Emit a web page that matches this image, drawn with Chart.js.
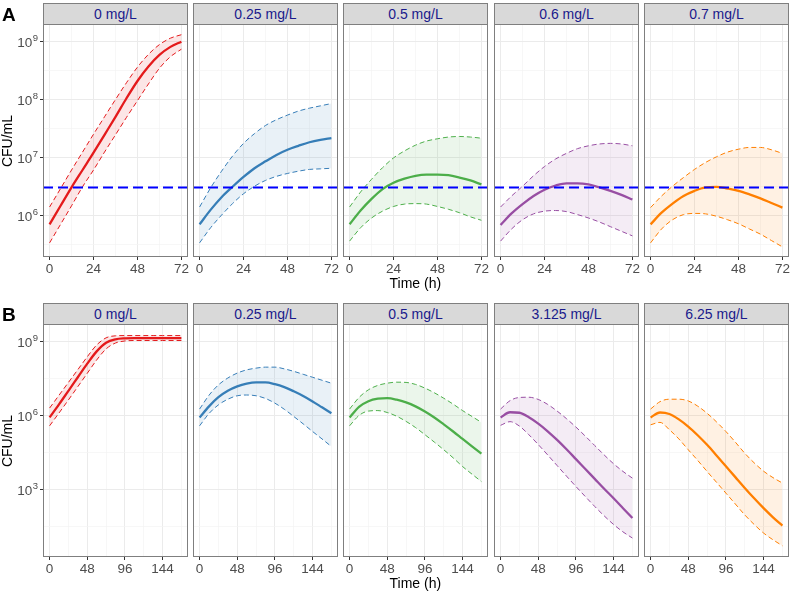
<!DOCTYPE html>
<html>
<head>
<meta charset="utf-8">
<script src="https://cdn.jsdelivr.net/npm/chart.js@4.4.1/dist/chart.umd.min.js"></script>
<style>
  body { margin: 0; width: 792px; height: 592px; position: relative; overflow: hidden; background: #fff;
         font-family: "Liberation Sans", Arial, sans-serif; }
  canvas { position: absolute; }
  .strip { position: absolute; box-sizing: border-box; height: 22px; background: #d9d9d9; border: 1px solid #7f7f7f;
           color: #1a1a8c; font-size: 14px; line-height: 20px; text-align: center; }
  .lbl { position: absolute; color: #000; font-size: 14px; white-space: nowrap; }
  .tag { position: absolute; font-weight: bold; font-size: 19px; color: #000; }
</style>
</head>
<body>
<script>
// ---- data ----
const timesA = [0, 6, 12, 18, 24, 30, 36, 42, 48, 54, 60, 66, 72];
const timesB = [0, 12, 24, 36, 48, 60, 72, 84, 96, 108, 120, 132, 144, 156, 168];
const dosesA = ["0 mg/L", "0.25 mg/L", "0.5 mg/L", "0.6 mg/L", "0.7 mg/L"];
const dosesB = ["0 mg/L", "0.25 mg/L", "0.5 mg/L", "3.125 mg/L", "6.25 mg/L"];
const colors = ["#E41A1C", "#377EB8", "#4DAF4A", "#984EA3", "#FF7F00"];
const threshold = 3e6;

// panel A (72 h)
const a0Mid = [6.92e5, 1.45e6, 3.02e6, 6.03e6, 1.20e7, 2.45e7, 5.01e7, 1.05e8, 2.09e8, 3.72e8, 5.89e8, 8.13e8, 1.0e9];
const a0Hi  = [1.38e6, 2.88e6, 6.03e6, 1.23e7, 2.51e7, 5.01e7, 1.0e8, 1.95e8, 3.63e8, 6.03e8, 8.91e8, 1.15e9, 1.32e9];
const a0Lo  = [3.31e5, 6.92e5, 1.45e6, 3.09e6, 6.03e6, 1.23e7, 2.45e7, 4.90e7, 9.55e7, 1.86e8, 3.47e8, 5.50e8, 7.41e8];
const a1Mid = [6.92e5, 1.23e6, 2.04e6, 3.09e6, 4.57e6, 6.46e6, 8.51e6, 1.10e7, 1.35e7, 1.58e7, 1.82e7, 2.00e7, 2.14e7];
const a1Hi  = [1.38e6, 2.95e6, 5.75e6, 1.05e7, 1.74e7, 2.57e7, 3.55e7, 4.47e7, 5.37e7, 6.31e7, 7.08e7, 7.76e7, 8.51e7];
const a1Lo  = [3.31e5, 6.03e5, 1.0e6, 1.58e6, 2.34e6, 3.16e6, 3.98e6, 4.68e6, 5.25e6, 5.75e6, 6.17e6, 6.31e6, 6.46e6];
const a2Mid = [6.92e5, 1.20e6, 1.91e6, 2.82e6, 3.63e6, 4.27e6, 4.79e6, 5.01e6, 5.01e6, 4.90e6, 4.47e6, 3.98e6, 3.39e6];
const a2Hi  = [1.38e6, 2.51e6, 4.17e6, 6.61e6, 9.77e6, 1.29e7, 1.62e7, 1.91e7, 2.09e7, 2.24e7, 2.29e7, 2.24e7, 2.14e7];
const a2Lo  = [3.55e5, 6.03e5, 8.91e5, 1.17e6, 1.41e6, 1.55e6, 1.58e6, 1.55e6, 1.41e6, 1.26e6, 1.10e6, 9.33e5, 8.13e5];
const a3Mid = [6.76e5, 1.07e6, 1.55e6, 2.14e6, 2.75e6, 3.24e6, 3.55e6, 3.55e6, 3.39e6, 3.02e6, 2.63e6, 2.24e6, 1.86e6];
const a3Hi  = [1.38e6, 2.14e6, 3.16e6, 4.79e6, 6.92e6, 9.33e6, 1.17e7, 1.41e7, 1.58e7, 1.70e7, 1.74e7, 1.70e7, 1.58e7];
const a3Lo  = [3.55e5, 5.75e5, 8.32e5, 1.05e6, 1.17e6, 1.20e6, 1.15e6, 1.02e6, 8.91e5, 7.59e5, 6.31e5, 5.25e5, 4.37e5];
const a4Mid = [6.92e5, 1.10e6, 1.58e6, 2.14e6, 2.63e6, 3.02e6, 3.09e6, 2.88e6, 2.63e6, 2.29e6, 1.95e6, 1.62e6, 1.35e6];
const a4Hi  = [1.35e6, 2.14e6, 3.16e6, 4.47e6, 6.17e6, 8.13e6, 1.02e7, 1.23e7, 1.38e7, 1.48e7, 1.48e7, 1.35e7, 1.17e7];
const a4Lo  = [3.31e5, 5.75e5, 8.32e5, 1.02e6, 1.07e6, 1.05e6, 9.55e5, 8.32e5, 7.08e5, 5.75e5, 4.68e5, 3.63e5, 2.82e5];

// panel B (168 h)
const b0Mid = [8.32e5, 2.82e6, 1.0e7, 3.55e7, 1.26e8, 3.98e8, 8.91e8, 1.23e9, 1.35e9, 1.38e9, 1.38e9, 1.38e9, 1.38e9, 1.38e9, 1.38e9];
const b0Hi  = [2.0e6, 6.61e6, 2.19e7, 7.24e7, 2.40e8, 7.24e8, 1.41e9, 1.70e9, 1.74e9, 1.74e9, 1.74e9, 1.74e9, 1.74e9, 1.74e9, 1.74e9];
const b0Lo  = [3.80e5, 1.26e6, 4.27e6, 1.48e7, 5.13e7, 1.78e8, 5.01e8, 8.71e8, 1.05e9, 1.10e9, 1.10e9, 1.10e9, 1.10e9, 1.10e9, 1.10e9];
const b1Mid = [8.32e5, 2.34e6, 5.50e6, 1.0e7, 1.51e7, 1.95e7, 2.19e7, 2.19e7, 1.86e7, 1.41e7, 9.55e6, 6.17e6, 3.72e6, 2.14e6, 1.23e6];
const b1Hi  = [1.82e6, 6.61e6, 1.74e7, 3.31e7, 5.25e7, 7.08e7, 8.32e7, 9.12e7, 9.12e7, 7.76e7, 6.17e7, 4.68e7, 3.55e7, 2.69e7, 2.04e7];
const b1Lo  = [3.80e5, 1.20e6, 2.69e6, 4.57e6, 6.31e6, 6.76e6, 6.31e6, 4.90e6, 3.16e6, 1.78e6, 9.12e5, 4.57e5, 2.24e5, 1.12e5, 5.50e4];
const b2Mid = [8.32e5, 2.24e6, 3.80e6, 4.79e6, 5.01e6, 4.37e6, 3.39e6, 2.34e6, 1.45e6, 8.32e5, 4.37e5, 2.24e5, 1.12e5, 5.62e4, 2.82e4];
const b2Hi  = [1.82e6, 5.37e6, 1.10e7, 1.66e7, 2.04e7, 2.24e7, 2.19e7, 1.82e7, 1.29e7, 8.32e6, 5.01e6, 2.88e6, 1.58e6, 9.12e5, 5.25e5];
const b2Lo  = [3.80e5, 1.0e6, 1.51e6, 1.58e6, 1.32e6, 9.33e5, 5.75e5, 3.24e5, 1.66e5, 8.32e4, 4.07e4, 1.91e4, 8.51e3, 4.17e3, 2.09e3];
const b3Mid = [8.32e5, 1.35e6, 1.29e6, 8.51e5, 4.68e5, 2.29e5, 1.02e5, 4.27e4, 1.70e4, 6.76e3, 2.69e3, 1.07e3, 437, 174, 69];
const b3Hi  = [1.82e6, 3.98e6, 5.37e6, 5.50e6, 4.47e6, 2.82e6, 1.51e6, 7.41e5, 3.39e5, 1.45e5, 6.03e4, 2.51e4, 1.10e4, 5.37e3, 2.88e3];
const b3Lo  = [3.98e5, 5.62e5, 3.72e5, 1.66e5, 6.61e4, 2.51e4, 9.33e3, 3.47e3, 1.32e3, 513, 204, 85, 38, 19, 10.7];
const b4Mid = [8.32e5, 1.32e6, 1.15e6, 6.92e5, 3.55e5, 1.58e5, 6.46e4, 2.40e4, 8.71e3, 3.16e3, 1.15e3, 437, 174, 74, 34];
const b4Hi  = [1.82e6, 3.63e6, 4.57e6, 4.57e6, 3.89e6, 2.40e6, 1.23e6, 5.50e5, 2.24e5, 8.32e4, 2.95e4, 1.20e4, 5.50e3, 3.02e3, 1.82e3];
const b4Lo  = [4.17e5, 5.25e5, 2.63e5, 1.12e5, 4.07e4, 1.51e4, 5.37e3, 1.95e3, 708, 257, 93, 38, 17, 9.1, 5.2];

// tick labels / grid breaks
const xMajorA = [0, 24, 48, 72];
const xMinorA = [12, 36, 60];
const xMajorB = [0, 48, 96, 144];
const xMinorB = [24, 72, 120, 168];
const yMajorA = [1e6, 1e7, 1e8, 1e9];
const yMinorA = [3.162e5, 3.162e6, 3.162e7, 3.162e8];
const yMajorB = [1e3, 1e6, 1e9];
const yMinorB = [31.62, 3.162e4, 3.162e7];

// ---- layout ----
const panelLeft = [43, 193, 343, 494, 644];
const panelW = 145, panelH = 233;
const FONT = "Liberation Sans, Arial, sans-serif";

const rows = [
  { tag: "A", top: 24, strip: 3, doses: dosesA, times: timesA, xMin: -3.6, xMax: 75.6,
    yMin: 1.884e5, yMax: 2.023e9, xMajor: xMajorA, xMinor: xMinorA, yMajor: yMajorA, yMinor: yMinorA,
    series: [[a0Lo, a0Hi, a0Mid], [a1Lo, a1Hi, a1Mid], [a2Lo, a2Hi, a2Mid], [a3Lo, a3Hi, a3Mid], [a4Lo, a4Hi, a4Mid]],
    showThreshold: true },
  { tag: "B", top: 324, strip: 303, doses: dosesB, times: timesB, xMin: -8.4, xMax: 176.4,
    yMin: 1.82, yMax: 5.13e9, xMajor: xMajorB, xMinor: xMinorB, yMajor: yMajorB, yMinor: yMinorB,
    series: [[b0Lo, b0Hi, b0Mid], [b1Lo, b1Hi, b1Mid], [b2Lo, b2Hi, b2Mid], [b3Lo, b3Hi, b3Mid], [b4Lo, b4Hi, b4Mid]],
    showThreshold: false }
];

function rgba(hex, a) {
  const n = parseInt(hex.slice(1), 16);
  return `rgba(${n >> 16},${(n >> 8) & 255},${n & 255},${a})`;
}
const near = (list, v) => list.some(m => Math.abs(m - v) <= Math.abs(m) * 1e-3 + 1e-9);

const panelBorder = {
  id: "panelBorder",
  afterDraw(chart) {
    const { ctx, chartArea: a } = chart;
    ctx.save();
    ctx.strokeStyle = "#7f7f7f";
    ctx.lineWidth = 1;
    ctx.strokeRect(a.left + 0.5, a.top + 0.5, a.right - a.left - 1, a.bottom - a.top - 1);
    ctx.restore();
  }
};

const thresholdLine = {
  id: "thresholdLine",
  afterDatasetsDraw(chart, args, opts) {
    if (!opts.show) return;
    const { ctx, chartArea: a, scales } = chart;
    const y = scales.y.getPixelForValue(threshold);
    ctx.save();
    ctx.strokeStyle = "#0000ff";
    ctx.lineWidth = 2;
    ctx.setLineDash([10, 5]);
    ctx.beginPath();
    ctx.moveTo(a.left, y);
    ctx.lineTo(a.right, y);
    ctx.stroke();
    ctx.restore();
  }
};

// y labels as 10 with a raised exponent, placed with the log scale
const powerLabels = {
  id: "powerLabels",
  afterDraw(chart, args, opts) {
    if (!opts.majors) return;
    const { ctx, chartArea: a, scales } = chart;
    ctx.save();
    ctx.fillStyle = "#4d4d4d";
    ctx.textBaseline = "middle";
    ctx.textAlign = "right";
    opts.majors.forEach(v => {
      const y = scales.y.getPixelForValue(v);
      const exp = String(Math.round(Math.log10(v)));
      ctx.font = "9.5px " + FONT;
      const ew = ctx.measureText(exp).width;
      const xr = a.left - 5;
      ctx.fillText(exp, xr, y - 3);
      ctx.font = "13.5px " + FONT;
      ctx.fillText("10", xr - ew - 0.5, y + 2);
    });
    ctx.restore();
  }
};

function addDiv(cls, text, css) {
  const d = document.createElement("div");
  d.className = cls;
  d.textContent = text;
  Object.assign(d.style, css);
  document.body.appendChild(d);
  return d;
}

function drawPanel(row, col) {
  const left = panelLeft[col];
  const yW = col === 0 ? 43 : 0;
  const padL = col === 0 ? 0 : 10;
  const padR = 10;
  const xH = 30;
  const cw = yW + padL + panelW + padR;
  const ch = panelH + xH;

  const canvas = document.createElement("canvas");
  canvas.width = cw; canvas.height = ch;
  canvas.style.width = cw + "px"; canvas.style.height = ch + "px";
  canvas.style.left = (left - yW - padL) + "px";
  canvas.style.top = row.top + "px";
  document.body.appendChild(canvas);

  const [lo, hi, mid] = row.series[col];
  const color = colors[col];
  const pts = arr => arr.map((v, i) => ({ x: row.times[i], y: v }));
  const xTicks = row.xMajor.concat(row.xMinor).sort((a, b) => a - b);
  const yTicks = row.yMajor.concat(row.yMinor).sort((a, b) => a - b);

  new Chart(canvas, {
    type: "line",
    data: {
      datasets: [
        { data: pts(lo), borderColor: color, borderWidth: 1, borderDash: [5, 3], fill: false },
        { data: pts(hi), borderColor: color, borderWidth: 1, borderDash: [5, 3], fill: "-1",
          backgroundColor: rgba(color, 0.11) },
        { data: pts(mid), borderColor: color, borderWidth: 2.3, fill: false }
      ]
    },
    options: {
      responsive: false,
      animation: false,
      layout: { padding: { left: padL, right: padR, top: 0, bottom: 0 } },
      elements: { point: { radius: 0 }, line: { cubicInterpolationMode: "monotone" } },
      plugins: {
        legend: { display: false },
        tooltip: { enabled: false },
        thresholdLine: { show: row.showThreshold },
        powerLabels: { majors: col === 0 ? row.yMajor : null }
      },
      scales: {
        x: {
          type: "linear", min: row.xMin, max: row.xMax,
          afterBuildTicks: ax => { ax.ticks = xTicks.map(v => ({ value: v })); },
          afterFit: ax => { ax.height = xH; ax.paddingLeft = 0; ax.paddingRight = 0; },
          border: { display: false },
          grid: {
            color: c => near(row.xMajor, c.tick.value) ? "#ebebeb" : "#f4f4f4",
            lineWidth: c => near(row.xMajor, c.tick.value) ? 1 : 0.7,
            tickColor: c => near(row.xMajor, c.tick.value) ? "#333" : "rgba(0,0,0,0)",
            tickLength: 3
          },
          ticks: {
            autoSkip: false, maxRotation: 0, padding: 1, color: "#4d4d4d",
            font: { family: FONT, size: 13.5 },
            callback: v => near(row.xMajor, v) ? String(v) : ""
          }
        },
        y: {
          type: "logarithmic", min: row.yMin, max: row.yMax,
          afterBuildTicks: ax => { ax.ticks = yTicks.map(v => ({ value: v })); },
          afterFit: ax => { ax.width = yW; ax.paddingTop = 0; ax.paddingBottom = 0; },
          border: { display: false },
          grid: {
            color: c => near(row.yMajor, c.tick.value) ? "#ebebeb" : "#f4f4f4",
            lineWidth: c => near(row.yMajor, c.tick.value) ? 1 : 0.7,
            tickColor: c => near(row.yMajor, c.tick.value) ? "#333" : "rgba(0,0,0,0)",
            drawTicks: col === 0,
            tickLength: 3
          },
          ticks: { display: false }
        }
      }
    },
    plugins: [panelBorder, thresholdLine, powerLabels]
  });

  addDiv("strip", row.doses[col], { left: left + "px", top: row.strip + "px", width: panelW + "px" });
}

rows.forEach(row => {
  for (let c = 0; c < 5; c++) drawPanel(row, c);
  addDiv("tag", row.tag, { left: "2px", top: (row.strip + 1) + "px" });
  const t = addDiv("lbl", "Time (h)", { top: (row.top + panelH + 18) + "px" });
  t.style.left = (415.5 - t.offsetWidth / 2) + "px";
  const y = addDiv("lbl", "CFU/mL", {});
  y.style.left = (7 - y.offsetWidth / 2) + "px";
  y.style.top = (row.top + 117 - y.offsetHeight / 2) + "px";
  y.style.transform = "rotate(-90deg)";
});
</script>
</body>
</html>
